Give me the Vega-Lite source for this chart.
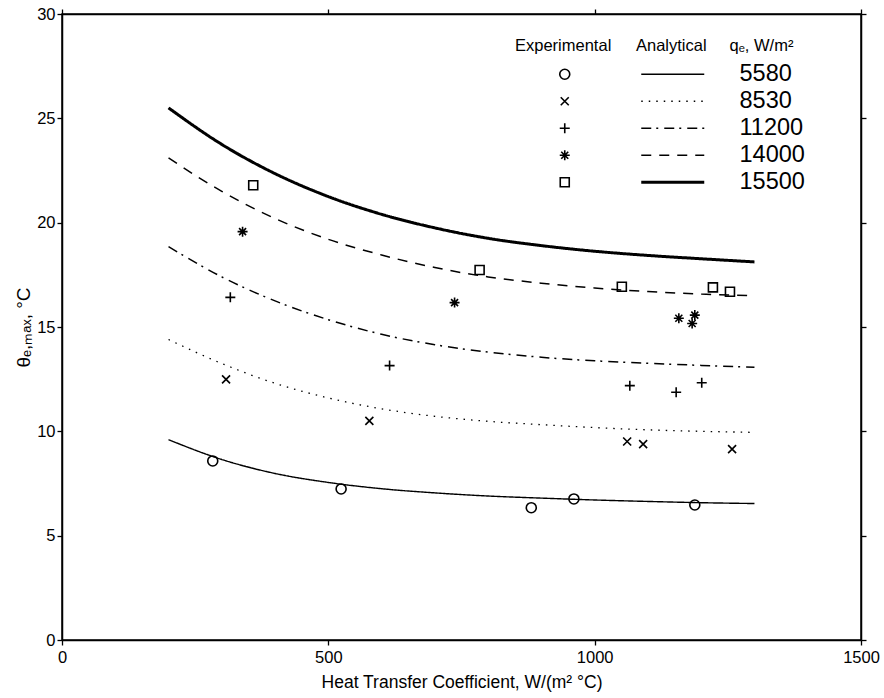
{
  "$schema": "https://vega.github.io/schema/vega-lite/v6.json",
  "autosize": {"type": "none"},
  "width": 799,
  "height": 626,
  "padding": {"left": 62, "top": 14, "right": 23, "bottom": 58},
  "background": "white",
  "config": {
    "font": "Liberation Sans",
    "view": {"stroke": "black", "strokeWidth": 1.5},
    "axis": {
      "grid": false,
      "domainColor": "black",
      "domainWidth": 1.5,
      "tickColor": "black",
      "tickWidth": 1.3,
      "tickSize": 5,
      "labelColor": "black",
      "labelFontSize": 16.5,
      "labelFont": "Liberation Sans",
      "labelFlush": false,
      "labelOverlap": false,
      "titleColor": "black",
      "titleFont": "Liberation Sans",
      "titleFontSize": 17.5,
      "titleFontWeight": "normal"
    },
    "legend": {
      "padding": 0,
      "labelColor": "black",
      "titleColor": "black",
      "labelFont": "Liberation Sans",
      "titleFont": "Liberation Sans",
      "titleFontWeight": "normal",
      "titleFontSize": 16.5,
      "labelFontSize": 23.5
    }
  },
  "datasets": {
    "exp": [
      {"h": 283, "theta": 8.58, "q": 5580},
      {"h": 524, "theta": 7.24, "q": 5580},
      {"h": 881, "theta": 6.34, "q": 5580},
      {"h": 961, "theta": 6.76, "q": 5580},
      {"h": 1188, "theta": 6.47, "q": 5580},
      {"h": 308, "theta": 12.49, "q": 8530},
      {"h": 577, "theta": 10.5, "q": 8530},
      {"h": 1061, "theta": 9.51, "q": 8530},
      {"h": 1091, "theta": 9.39, "q": 8530},
      {"h": 1258, "theta": 9.15, "q": 8530},
      {"h": 316, "theta": 16.42, "q": 11200},
      {"h": 615, "theta": 13.15, "q": 11200},
      {"h": 1066, "theta": 12.19, "q": 11200},
      {"h": 1153, "theta": 11.87, "q": 11200},
      {"h": 1201, "theta": 12.33, "q": 11200},
      {"h": 339, "theta": 19.57, "q": 14000},
      {"h": 737, "theta": 16.17, "q": 14000},
      {"h": 1158, "theta": 15.42, "q": 14000},
      {"h": 1188, "theta": 15.57, "q": 14000},
      {"h": 1183, "theta": 15.17, "q": 14000},
      {"h": 359, "theta": 21.79, "q": 15500},
      {"h": 784, "theta": 17.73, "q": 15500},
      {"h": 1051, "theta": 16.93, "q": 15500},
      {"h": 1222, "theta": 16.9, "q": 15500},
      {"h": 1254, "theta": 16.69, "q": 15500}
    ],
    "ana": [
      {"h": 200, "theta": 9.6, "q": 5580},
      {"h": 300, "theta": 8.65, "q": 5580},
      {"h": 400, "theta": 7.98, "q": 5580},
      {"h": 500, "theta": 7.55, "q": 5580},
      {"h": 600, "theta": 7.25, "q": 5580},
      {"h": 700, "theta": 7.05, "q": 5580},
      {"h": 800, "theta": 6.9, "q": 5580},
      {"h": 900, "theta": 6.8, "q": 5580},
      {"h": 1000, "theta": 6.71, "q": 5580},
      {"h": 1100, "theta": 6.64, "q": 5580},
      {"h": 1200, "theta": 6.58, "q": 5580},
      {"h": 1300, "theta": 6.54, "q": 5580},
      {"h": 200, "theta": 14.4, "q": 8530},
      {"h": 300, "theta": 13.25, "q": 8530},
      {"h": 400, "theta": 12.3, "q": 8530},
      {"h": 500, "theta": 11.6, "q": 8530},
      {"h": 600, "theta": 11.08, "q": 8530},
      {"h": 700, "theta": 10.72, "q": 8530},
      {"h": 800, "theta": 10.48, "q": 8530},
      {"h": 900, "theta": 10.32, "q": 8530},
      {"h": 1000, "theta": 10.18, "q": 8530},
      {"h": 1100, "theta": 10.07, "q": 8530},
      {"h": 1200, "theta": 10.0, "q": 8530},
      {"h": 1300, "theta": 9.95, "q": 8530},
      {"h": 200, "theta": 18.85, "q": 11200},
      {"h": 300, "theta": 17.4, "q": 11200},
      {"h": 400, "theta": 16.25, "q": 11200},
      {"h": 500, "theta": 15.35, "q": 11200},
      {"h": 600, "theta": 14.65, "q": 11200},
      {"h": 700, "theta": 14.15, "q": 11200},
      {"h": 800, "theta": 13.8, "q": 11200},
      {"h": 900, "theta": 13.55, "q": 11200},
      {"h": 1000, "theta": 13.38, "q": 11200},
      {"h": 1100, "theta": 13.26, "q": 11200},
      {"h": 1200, "theta": 13.16, "q": 11200},
      {"h": 1300, "theta": 13.07, "q": 11200},
      {"h": 200, "theta": 23.1, "q": 14000},
      {"h": 300, "theta": 21.5, "q": 14000},
      {"h": 400, "theta": 20.2, "q": 14000},
      {"h": 500, "theta": 19.2, "q": 14000},
      {"h": 600, "theta": 18.45, "q": 14000},
      {"h": 700, "theta": 17.85, "q": 14000},
      {"h": 800, "theta": 17.4, "q": 14000},
      {"h": 900, "theta": 17.1, "q": 14000},
      {"h": 1000, "theta": 16.87, "q": 14000},
      {"h": 1100, "theta": 16.7, "q": 14000},
      {"h": 1200, "theta": 16.58, "q": 14000},
      {"h": 1300, "theta": 16.5, "q": 14000},
      {"h": 200, "theta": 25.5, "q": 15500},
      {"h": 300, "theta": 23.75, "q": 15500},
      {"h": 400, "theta": 22.35, "q": 15500},
      {"h": 500, "theta": 21.25, "q": 15500},
      {"h": 600, "theta": 20.4, "q": 15500},
      {"h": 700, "theta": 19.75, "q": 15500},
      {"h": 800, "theta": 19.25, "q": 15500},
      {"h": 900, "theta": 18.9, "q": 15500},
      {"h": 1000, "theta": 18.63, "q": 15500},
      {"h": 1100, "theta": 18.43, "q": 15500},
      {"h": 1200, "theta": 18.27, "q": 15500},
      {"h": 1300, "theta": 18.12, "q": 15500}
    ]
  },
  "layer": [
    {
      "data": {"name": "ana"},
      "mark": {"type": "line", "color": "black", "interpolate": "monotone"},
      "encoding": {
        "x": {
          "field": "h", "type": "quantitative",
          "scale": {"domain": [0, 1500], "nice": false},
          "axis": {"orient": "bottom", "values": [0, 500, 1000, 1500], "format": "d", "title": "Heat Transfer Coefficient, W/(m² °C)", "labelPadding": 4, "titlePadding": 8}
        },
        "y": {
          "field": "theta", "type": "quantitative",
          "scale": {"domain": [0, 30], "nice": false},
          "axis": {"orient": "left", "values": [0, 5, 10, 15, 20, 25, 30], "title": "θₑ,ₘₐₓ, °C", "titleFontSize": 19, "labelPadding": 2, "titlePadding": 3}
        },
        "strokeDash": {
          "field": "q", "type": "ordinal",
          "scale": {"range": [[1, 0], [1.5, 6], [10, 5, 2, 6], [10, 8], [1, 0]]},
          "legend": {
            "orient": "none",
            "legendX": 574,
            "legendY": 24,
            "title": "Analytical\u00a0\u00a0\u00a0\u00a0\u00a0qₑ, W/m²",
            "symbolType": "M-6.3,0L6.3,0",
            "symbolSize": 100,
            "symbolStrokeColor": "black",
            "symbolOffset": 25,
            "labelOffset": 55,
            "titlePadding": 8,
            "rowPadding": 2
          }
        },
        "strokeWidth": {
          "field": "q", "type": "ordinal",
          "scale": {"type": "ordinal", "range": [1.4, 1.3, 1.5, 1.5, 3]}
        }
      }
    },
    {
      "data": {"name": "exp"},
      "mark": {"type": "point", "filled": false, "color": "black", "strokeWidth": 1.6, "size": 100, "opacity": 1},
      "encoding": {
        "x": {"field": "h", "type": "quantitative", "axis": {"orient": "top", "labels": false, "title": null, "values": [0, 500, 1000, 1500]}},
        "y": {"field": "theta", "type": "quantitative", "axis": {"orient": "right", "labels": false, "title": null, "values": [0, 5, 10, 15, 20, 25, 30]}},
        "shape": {
          "field": "q", "type": "ordinal",
          "scale": {"range": ["circle", "M-0.8,-0.8L0.8,0.8M0.8,-0.8L-0.8,0.8", "M-1,0L1,0M0,-1L0,1", "M-1,0L1,0M0,-1L0,1M-0.7,-0.7L0.7,0.7M-0.7,0.7L0.7,-0.7", "M-0.9,-0.9H0.9V0.9H-0.9Z"]},
          "legend": {
            "orient": "none",
            "legendX": 453,
            "legendY": 24,
            "title": "Experimental",
            "labelExpr": "''",
            "symbolSize": 100,
            "symbolStrokeColor": "black",
            "symbolStrokeWidth": 1.6,
            "symbolFillColor": "transparent",
            "symbolOffset": 38,
            "titlePadding": 8,
            "rowPadding": 2
          }
        }
      }
    }
  ]
}
